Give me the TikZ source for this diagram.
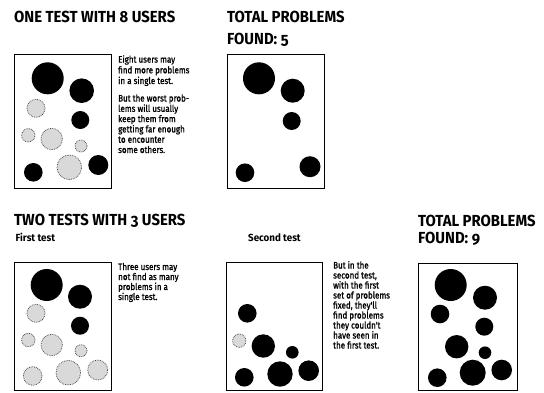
\documentclass[tikz,border=0pt]{standalone}
\usepackage{fontspec}
\setmainfont{Fira Sans}
\newfontfamily\ttlfont{Fira Sans}[Numbers=OldStyle,FakeStretch=0.93]
\newfontfamily\bodyfont{Fira Sans}[FakeStretch=0.85,FakeBold=1.2]
\newfontfamily\subfont{Fira Sans}[FakeStretch=0.95]
\begin{document}
\begin{tikzpicture}[x=1pt,y=-1pt,
  frame/.style={draw=black,line width=0.9pt},
  bk/.style={fill=black},
  dt/.style={fill=black!15,draw=black!75,line width=0.75pt,densely dotted},
  ttl/.style={anchor=base west,inner sep=0pt,font=\ttlfont\bfseries\fontsize{16}{18}\selectfont},
  sub/.style={anchor=base west,inner sep=0pt,font=\subfont\bfseries\fontsize{10.3}{12}\selectfont},
  body/.style={anchor=base west,inner sep=0pt,align=left},
  bodyf/.style={font=\bodyfont\fontsize{9.4}{#1}\selectfont}]
\useasboundingbox (0,0) rectangle (544,392);
% titles
\node[ttl] (t1) at (14,22.5) {ONE TEST WITH 8 USERS};
\node[ttl] (t2a) at (227,22.5) {TOTAL PROBLEMS};
\node[ttl] (t2b) at (227,44.5) {FOUND: 5};
\node[ttl] (t3) at (14,225) {TWO TESTS WITH 3 USERS};
\node[sub] (s1) at (15.5,241.5) {First test};
\node[sub] (s2) at (248,241.5) {Second test};
\node[ttl] (t5a) at (418,226) {TOTAL PROBLEMS};
\node[ttl] (t5b) at (418,243) {FOUND: 9};
% body texts (anchor base = last line's baseline)
\node[body,bodyf=10.7] (b1) at (118,84) {Eight users may\\find more problems\\in a single test.};
\node[body,bodyf=10.3] (b2) at (118,153) {But the worst prob-\\lems will usually\\keep them from\\getting far enough\\to encounter\\some others.};
\node[body,bodyf=10] (b3) at (118,300) {Three users may\\not find as many\\problems in a\\single test.};
\node[body,bodyf=10] (b4) at (333,348.5) {But in the\\second test,\\with the first\\set of problems\\fixed, they'll\\find problems\\they couldn't\\have seen in\\the first test.};
% frames
\draw[frame] (14,54) rectangle (111,188);
\draw[frame] (227,54) rectangle (324,188);
\draw[frame] (14,262) rectangle (111,390);
\draw[frame] (226,262) rectangle (322,390);
\draw[frame] (418,263) rectangle (517,390);
% box 1
\path[bk] (47.7,78.3) circle (16pt);
\path[bk] (81.7,90.7) circle (12.3pt);
\path[dt] (36,108.3) circle (9pt);
\path[bk] (80.3,120) circle (9pt);
\path[dt] (28.3,135.3) circle (6.7pt);
\path[dt] (51.7,139) circle (10.7pt);
\path[dt] (81,146) circle (6pt);
\path[dt] (69.3,167.3) circle (12.3pt);
\path[bk] (33.3,172.3) circle (9.3pt);
\path[bk] (98.3,165) circle (10pt);
% box 2
\path[bk] (259,78.3) circle (16pt);
\path[bk] (292.7,90.7) circle (12pt);
\path[bk] (291.7,121) circle (9pt);
\path[bk] (310,166.7) circle (10.5pt);
\path[bk] (245,172.7) circle (9.3pt);
% box 3
\path[bk] (46.7,285) circle (16pt);
\path[bk] (80,296.7) circle (12pt);
\path[dt] (36,313.3) circle (9pt);
\path[bk] (80,325.7) circle (9pt);
\path[dt] (28.3,340) circle (6.7pt);
\path[dt] (51.7,345) circle (10.7pt);
\path[dt] (81,350.7) circle (6pt);
\path[dt] (68.3,372.7) circle (12.3pt);
\path[dt] (32.7,376) circle (9.3pt);
\path[dt] (97.7,370) circle (10pt);
% box 4
\path[bk] (247.3,313.3) circle (9.3pt);
\path[dt] (239.3,340.7) circle (6.7pt);
\path[bk] (263.3,346) circle (11.7pt);
\path[bk] (292.3,352.3) circle (6.3pt);
\path[bk] (244.3,377.3) circle (9.3pt);
\path[bk] (280,374) circle (12.7pt);
\path[bk] (308.7,370.7) circle (10.3pt);
% box 5
\path[bk] (450.7,285) circle (16pt);
\path[bk] (485,297.7) circle (12pt);
\path[bk] (440,314) circle (9.3pt);
\path[bk] (484.3,326.7) circle (9pt);
\path[bk] (456.7,346.7) circle (11.7pt);
\path[bk] (485,352.7) circle (6.3pt);
\path[bk] (437.3,377.7) circle (9.3pt);
\path[bk] (472.7,372.7) circle (13pt);
\path[bk] (501.7,370) circle (10.3pt);
\end{tikzpicture}
\end{document}
